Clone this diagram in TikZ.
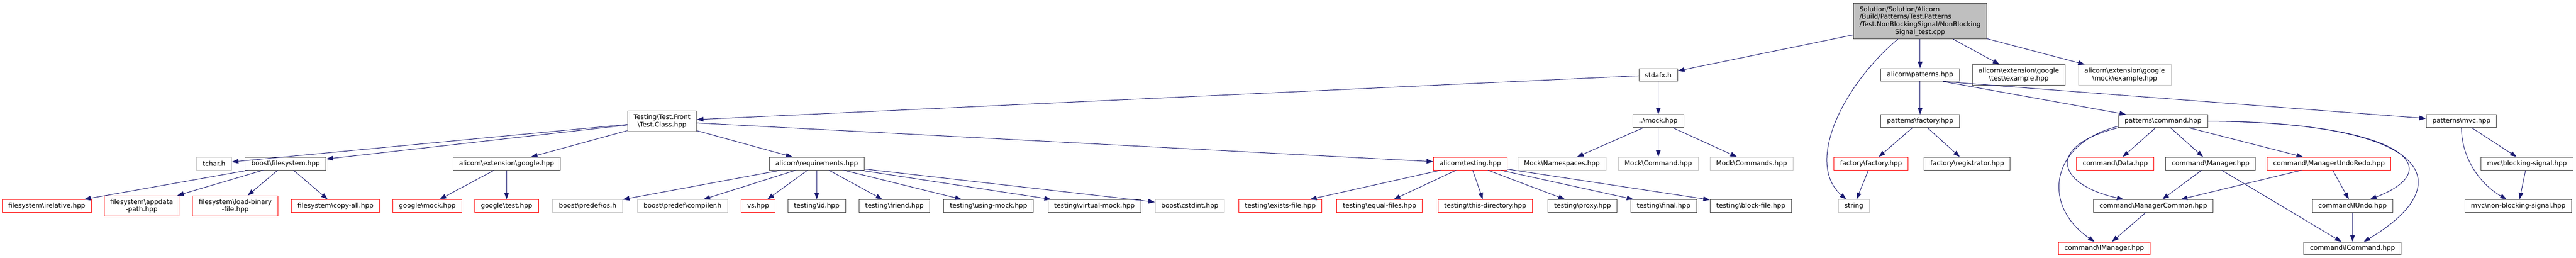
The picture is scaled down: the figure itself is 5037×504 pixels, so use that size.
\documentclass[tikz,border=0pt]{standalone}
\usepackage{fontspec}
\setmainfont{DejaVu Sans}
\usetikzlibrary{arrows.meta}
\definecolor{edgeblue}{HTML}{191970}
\definecolor{boxgray}{HTML}{BFBFBF}
\definecolor{boxdark}{HTML}{404040}
\newcommand{\bsl}{\textbackslash}
\tikzset{
    hfile/.style={rectangle, draw=boxdark, inner xsep=12pt, inner ysep=2pt, minimum height=25pt, align=center, font=\fontsize{12.8}{14.7}\selectfont},
    hfilered/.style={hfile, draw=red},
    hfilegray/.style={hfile, draw=boxgray},
    hfileroot/.style={hfile, fill=boxgray, minimum height=69pt},
    twoline/.style={minimum height=40pt},
    dep/.style={->, draw=edgeblue}
}
\begin{document}
\begin{tikzpicture}[node distance=83pt, x=1pt, y=1pt, line width=1pt, >={Triangle[length=13pt,width=9pt]}]
        \useasboundingbox (0,0) rectangle (5037,-504);

        % Source file
        \node[hfileroot] (root) at (3754.5,-41.5) {\begin{tabular}{@{}l@{}}Solution/Solution/Alicorn\\/Build/Patterns/Test.Patterns\\/Test.NonBlockingSignal/NonBlocking\\\multicolumn{1}{@{}c@{}}{Signal\_test.cpp}\end{tabular}};

        % Direct includes
        \node[hfile, below of=root, xshift=-512pt, yshift=-22pt] (stdafx) {stdafx.h};
        \node[hfile, below of=root, yshift=-22pt] (patterns) {alicorn\bsl{}patterns.hpp};
        \node[hfile, twoline, below of=root, xshift=193pt, yshift=-22pt] (gtestex) {alicorn\bsl{}extension\bsl{}google\\\bsl{}test\bsl{}example.hpp};
        \node[hfilegray, twoline, below of=root, xshift=400pt, yshift=-22pt] (gmockex) {alicorn\bsl{}extension\bsl{}google\\\bsl{}mock\bsl{}example.hpp};

        % Second level
        \node[hfile, twoline, below of=stdafx, xshift=-1948pt, yshift=-7.5pt] (testclass) {Testing\bsl{}Test.Front\\\bsl{}Test.Class.hpp};
        \node[hfile, below of=stdafx, yshift=-7.5pt] (mock) {..\bsl{}mock.hpp};
        \node[hfile, below of=patterns, yshift=-7.5pt] (factory) {patterns\bsl{}factory.hpp};
        \node[hfile, below of=patterns, xshift=475pt, yshift=-7.5pt] (command) {patterns\bsl{}command.hpp};
        \node[hfile, below of=patterns, xshift=1058.5pt, yshift=-7.5pt] (mvc) {patterns\bsl{}mvc.hpp};

        % Third level
        \node[hfilegray, below of=testclass, xshift=-876pt] (tchar) {tchar.h};
        \node[hfile, below of=testclass, xshift=-736pt] (filesystem) {boost\bsl{}filesystem.hpp};
        \node[hfile, below of=testclass, xshift=-304pt] (google) {alicorn\bsl{}extension\bsl{}google.hpp};
        \node[hfile, below of=testclass, xshift=302.5pt] (requirements) {alicorn\bsl{}requirements.hpp};
        \node[hfilered, below of=testclass, xshift=1580.5pt] (testing) {alicorn\bsl{}testing.hpp};
        \node[hfilegray, below of=mock, xshift=-188.5pt] (mocknamespaces) {Mock\bsl{}Namespaces.hpp};
        \node[hfilegray, below of=mock] (mockcommand) {Mock\bsl{}Command.hpp};
        \node[hfilegray, below of=mock, xshift=182.5pt] (mockcommands) {Mock\bsl{}Commands.hpp};
        \node[hfilered, below of=factory, xshift=-96pt] (factoryfactory) {factory\bsl{}factory.hpp};
        \node[hfile, below of=factory, xshift=92pt] (registrator) {factory\bsl{}registrator.hpp};
        \node[hfilered, below of=command, xshift=-93.5pt] (data) {command\bsl{}Data.hpp};
        \node[hfile, below of=command, xshift=93pt] (manager) {command\bsl{}Manager.hpp};
        \node[hfilered, below of=command, xshift=324.5pt] (undoredo) {command\bsl{}ManagerUndoRedo.hpp};
        \node[hfile, below of=mvc, xshift=128pt] (blocking) {mvc\bsl{}blocking-signal.hpp};

        % Fourth level
        \node[hfilered, below of=filesystem, xshift=-467pt] (irelative) {filesystem\bsl{}irelative.hpp};
        \node[hfilered, twoline, below of=filesystem, xshift=-281.5pt] (appdata) {filesystem\bsl{}appdata\\-path.hpp};
        \node[hfilered, twoline, below of=filesystem, xshift=-98.5pt] (loadbinary) {filesystem\bsl{}load-binary\\-file.hpp};
        \node[hfilered, below of=filesystem, xshift=97.5pt] (copyall) {filesystem\bsl{}copy-all.hpp};
        \node[hfilered, below of=google, xshift=-155pt] (gmock) {google\bsl{}mock.hpp};
        \node[hfilered, below of=google] (gtest) {google\bsl{}test.hpp};
        \node[hfilegray, below of=requirements, xshift=-448pt] (os) {boost\bsl{}predef\bsl{}os.h};
        \node[hfilegray, below of=requirements, xshift=-262.5pt] (compiler) {boost\bsl{}predef\bsl{}compiler.h};
        \node[hfilered, below of=requirements, xshift=-114.5pt] (vs) {vs.hpp};
        \node[hfile, below of=requirements] (id) {testing\bsl{}id.hpp};
        \node[hfile, below of=requirements, xshift=152pt] (friend) {testing\bsl{}friend.hpp};
        \node[hfile, below of=requirements, xshift=336pt] (usingmock) {testing\bsl{}using-mock.hpp};
        \node[hfile, below of=requirements, xshift=543pt] (virtualmock) {testing\bsl{}virtual-mock.hpp};
        \node[hfilegray, below of=requirements, xshift=729.5pt] (cstdint) {boost\bsl{}cstdint.hpp};
        \node[hfilered, below of=testing, xshift=-371.5pt] (existsfile) {testing\bsl{}exists-file.hpp};
        \node[hfilered, below of=testing, xshift=-177.5pt] (equalfiles) {testing\bsl{}equal-files.hpp};
        \node[hfilered, below of=testing, xshift=29pt] (thisdir) {testing\bsl{}this-directory.hpp};
        \node[hfile, below of=testing, xshift=219.5pt] (proxy) {testing\bsl{}proxy.hpp};
        \node[hfile, below of=testing, xshift=378pt] (final) {testing\bsl{}final.hpp};
        \node[hfile, below of=testing, xshift=548.5pt] (blockfile) {testing\bsl{}block-file.hpp};
        \node[hfilegray, below of=factoryfactory, xshift=-33.5pt] (string) {string};
        \node[hfile, below of=manager, xshift=-112pt] (managercommon) {command\bsl{}ManagerCommon.hpp};
        \node[hfile, below of=undoredo, xshift=46pt] (iundo) {command\bsl{}IUndo.hpp};
        \node[hfile, below of=blocking, xshift=-17pt] (nonblocking) {mvc\bsl{}non-blocking-signal.hpp};

        % Fifth level
        \node[hfilered, below of=managercommon, xshift=-96pt] (imanager) {command\bsl{}IManager.hpp};
        \node[hfile, below of=iundo] (icommand) {command\bsl{}ICommand.hpp};

        % Connections
        \draw[dep] (root) -- (stdafx);
        \draw[dep] (root) -- (patterns);
        \draw[dep] (root) -- (gtestex);
        \draw[dep] (root) -- (gmockex);
        \draw[dep] ([xshift=-43.5pt]root.south) .. controls +(-111,-94) and +(-95,82.5) .. (string);
        \draw[dep] (stdafx) -- (testclass);
        \draw[dep] (stdafx) -- (mock);
        \draw[dep] (testclass) -- (tchar);
        \draw[dep] (testclass) -- (filesystem);
        \draw[dep] (testclass) -- (google);
        \draw[dep] (testclass) -- (requirements);
        \draw[dep] (testclass) -- (testing);
        \draw[dep] (filesystem) -- (irelative);
        \draw[dep] (filesystem) -- (appdata);
        \draw[dep] (filesystem) -- (loadbinary);
        \draw[dep] (filesystem) -- (copyall);
        \draw[dep] (google) -- (gmock);
        \draw[dep] (google) -- (gtest);
        \draw[dep] (requirements) -- (os);
        \draw[dep] (requirements) -- (compiler);
        \draw[dep] (requirements) -- (vs);
        \draw[dep] (requirements) -- (id);
        \draw[dep] (requirements) -- (friend);
        \draw[dep] (requirements) -- (usingmock);
        \draw[dep] (requirements) -- (virtualmock);
        \draw[dep] (requirements) -- (cstdint);
        \draw[dep] (testing) -- (existsfile);
        \draw[dep] (testing) -- (equalfiles);
        \draw[dep] (testing) -- (thisdir);
        \draw[dep] (testing) -- (proxy);
        \draw[dep] (testing) -- (final);
        \draw[dep] (testing) -- (blockfile);
        \draw[dep] (mock) -- (mocknamespaces);
        \draw[dep] (mock) -- (mockcommand);
        \draw[dep] (mock) -- (mockcommands);
        \draw[dep] ([xshift=45pt]patterns.south) -- (command);
        \draw[dep] ([xshift=45pt]patterns.south) -- (mvc);
        \draw[dep] (patterns) -- (factory);
        \draw[dep] (factory) -- (factoryfactory);
        \draw[dep] (factory) -- (registrator);
        \draw[dep] (factoryfactory) -- (string);
        \draw[dep] (command) -- (data);
        \draw[dep] (command) -- (manager);
        \draw[dep] (command) -- (undoredo);
        \draw[dep] ([yshift=3pt]command.south west) .. controls +(-132,-33) and +(-124.5,85.5) .. (imanager);
        \draw[dep] (command.south west) .. controls +(-142,-35) and +(-190.5,42.5) .. (managercommon);
        \draw[dep] (command.east) .. controls +(383,-2.5) and +(190,72.5) .. (iundo);
        \draw[dep] (command.east) .. controls +(443,-2.5) and +(210.5,125.5) .. (icommand);
        \draw[dep] (manager) -- (managercommon);
        \draw[dep] (manager) -- (icommand);
        \draw[dep] (undoredo) -- (managercommon);
        \draw[dep] (undoredo) -- (iundo);
        \draw[dep] (managercommon) -- (imanager);
        \draw[dep] (iundo) -- (icommand);
        \draw[dep] (mvc) -- (blocking);
        \draw[dep] (mvc.south) .. controls +(0,-60) and +(-74,42.5) .. (nonblocking);
        \draw[dep] (blocking) -- (nonblocking);
    \end{tikzpicture}
\end{document}
